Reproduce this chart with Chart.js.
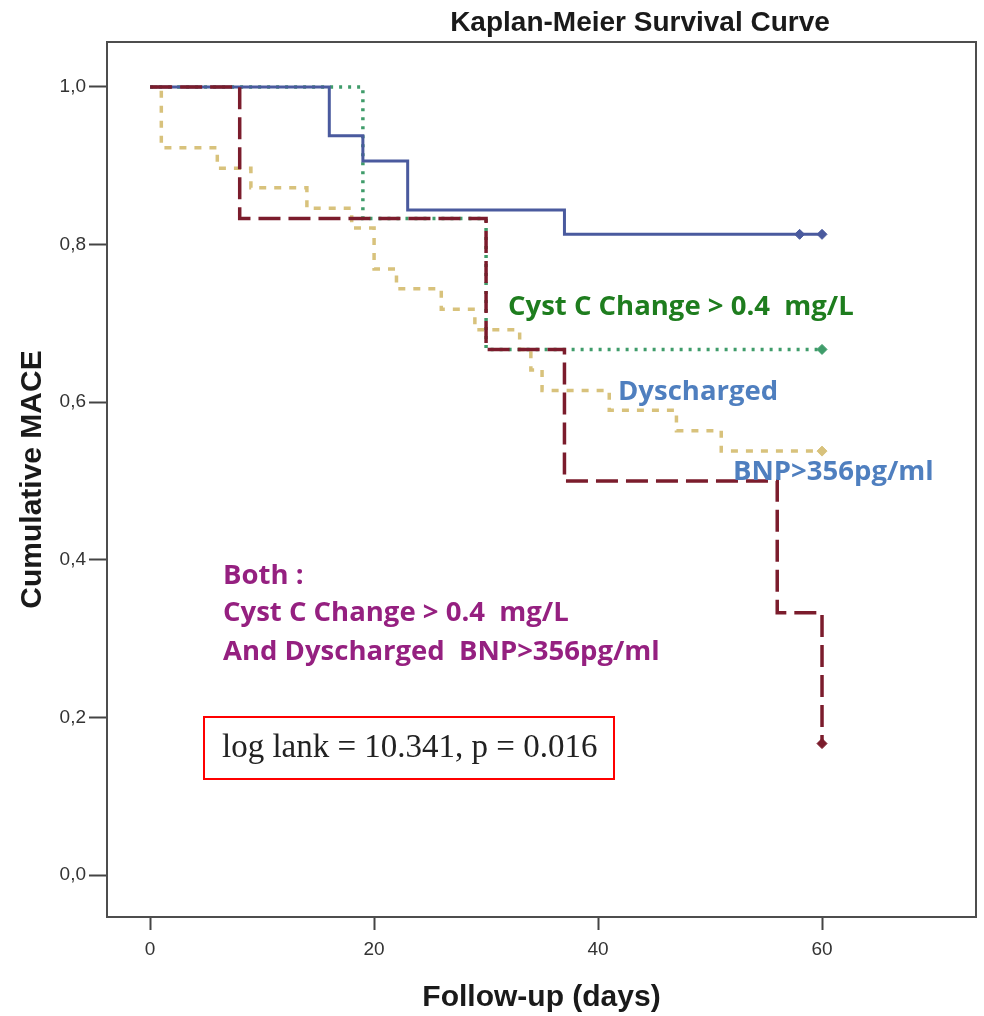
<!DOCTYPE html>
<html>
<head>
<meta charset="utf-8">
<script src="https://cdn.jsdelivr.net/npm/chart.js@4.4.1/dist/chart.umd.min.js"></script>
<style>
  html, body { margin: 0; padding: 0; background: #ffffff; }
  #wrap { width: 984px; height: 1016px; }
</style>
</head>
<body>
<div id="wrap"><canvas id="km" width="984" height="1016"></canvas></div>
<script>
// Follow-up times (days) and cumulative survival for each group
const bothDays   = [0, 8, 30, 37, 56, 60];
const bothSurv   = [1.0, 0.833, 0.667, 0.5, 0.333, 0.167];
const bothCens   = [60];

const dischDays  = [0, 16, 19, 23, 37, 58, 60];
const dischSurv  = [1.0, 0.938, 0.906, 0.844, 0.813, 0.813, 0.813];
const dischCens  = [58, 60];

const cystDays   = [0, 19, 30, 60];
const cystSurv   = [1.0, 0.833, 0.667, 0.667];
const cystCens   = [60];

const noneDays   = [0, 1, 6, 9, 14, 18, 20, 22, 26, 29, 33, 34, 35, 41, 47, 51, 60];
const noneSurv   = [1.0, 0.923, 0.897, 0.872, 0.846, 0.821, 0.769, 0.744, 0.718, 0.692, 0.667, 0.641, 0.615, 0.590, 0.564, 0.538, 0.538];
const noneCens   = [60];

const xTicks = [0, 20, 40, 60];
const yTicks = [0.0, 0.2, 0.4, 0.6, 0.8, 1.0];

const chartTitle = 'Kaplan-Meier Survival Curve';
const xTitle = 'Follow-up (days)';
const yTitle = 'Cumulative MACE';
const statText = 'log lank = 10.341, p = 0.016';

function toPoints(days, surv) {
  return days.map((d, i) => ({ x: d, y: surv[i] }));
}

function kmSeries(label, days, surv, cens, color, dash, width) {
  return {
    label: label,
    data: toPoints(days, surv),
    borderColor: color,
    backgroundColor: color,
    borderWidth: width,
    borderDash: dash,
    stepped: 'before',
    fill: false,
    pointStyle: 'rectRot',
    pointRadius: ctx => (cens.includes(days[ctx.dataIndex]) ? 5 : 0),
    pointHoverRadius: 0,
    pointBorderWidth: 1,
    tension: 0
  };
}

// Free-text notes and the statistic box inside the plot
const notesPlugin = {
  id: 'notes',
  afterDraw(chart) {
    const c = chart.ctx;
    c.save();
    // chart title
    c.fillStyle = '#1a1a1a';
    c.font = 'bold 28px "Liberation Sans", Arial, sans-serif';
    c.textAlign = 'center';
    c.textBaseline = 'middle';
    c.fillText(chartTitle, 640, 23);

    c.textAlign = 'left';
    c.font = 'bold 27.5px "Open Sans", "Noto Sans", sans-serif';
    c.fillStyle = '#1e7d1e';
    c.fillText('Cyst C Change > 0.4  mg/L', 508, 307);
    c.fillStyle = '#4f7fbf';
    c.fillText('Dyscharged', 618, 392);
    c.fillText('BNP>356pg/ml', 733, 472);

    c.fillStyle = '#952080';
    c.fillText('Both :', 223, 576);
    c.fillText('Cyst C Change > 0.4  mg/L', 223, 613);
    c.fillText('And Dyscharged  BNP>356pg/ml', 223, 652);

    // statistic box
    c.strokeStyle = '#ff0000';
    c.lineWidth = 2;
    c.strokeRect(204, 717, 410, 62);
    c.fillStyle = '#222222';
    c.font = '33px "Liberation Serif", "Times New Roman", serif';
    c.fillText(statText, 222, 748);

    // top and right edges of the frame
    const a = chart.chartArea;
    c.strokeStyle = '#4d4d4d';
    c.lineWidth = 2;
    c.beginPath();
    c.moveTo(a.left, a.top);
    c.lineTo(a.right, a.top);
    c.lineTo(a.right, a.bottom);
    c.stroke();
    c.restore();
  }
};

const axisFont = { family: '"Liberation Sans", Arial, sans-serif', size: 19 };
const titleFont = { family: '"Liberation Sans", Arial, sans-serif', size: 30, weight: 'bold', lineHeight: 1.2 };

new Chart(document.getElementById('km'), {
  type: 'line',
  data: {
    datasets: [
      kmSeries('Both', bothDays, bothSurv, bothCens, '#7b1c2c', [22, 8], 3.5),
      kmSeries('Dyscharged BNP>356pg/ml', dischDays, dischSurv, dischCens, '#4a5a9e', [], 3),
      kmSeries('Cyst C Change > 0.4 mg/L', cystDays, cystSurv, cystCens, '#3f9c6a', [3, 6], 3.5),
      kmSeries('None', noneDays, noneSurv, noneCens, '#d8c27c', [7, 8], 3.5)
    ]
  },
  options: {
    responsive: false,
    devicePixelRatio: 1,
    animation: false,
    layout: { padding: { left: 0, top: 42, right: 8, bottom: 0 } },
    plugins: {
      legend: { display: false },
      tooltip: { enabled: false },
      title: { display: false }
    },
    scales: {
      x: {
        type: 'linear',
        min: -3.85,
        max: 73.75,
        afterFit: s => { s.height = 99; },
        afterBuildTicks: s => { s.ticks = xTicks.map(v => ({ value: v })); },
        ticks: { font: axisFont, color: '#333333', padding: 8, maxRotation: 0 },
        grid: { drawOnChartArea: false, drawTicks: true, tickLength: 13, tickWidth: 2, tickColor: '#444444' },
        border: { display: true, color: '#4d4d4d', width: 2 },
        title: { display: true, text: xTitle, font: titleFont, color: '#1a1a1a', padding: { top: 0, bottom: 0 } }
      },
      y: {
        type: 'linear',
        min: -0.053,
        max: 1.057,
        afterFit: s => { s.width = 107; },
        afterBuildTicks: s => { s.ticks = yTicks.map(v => ({ value: v })); },
        ticks: {
          font: axisFont, color: '#333333', padding: 3,
          callback: v => v.toFixed(1).replace('.', ',')
        },
        grid: { drawOnChartArea: false, drawTicks: true, tickLength: 18, tickWidth: 2, tickColor: '#444444' },
        border: { display: true, color: '#4d4d4d', width: 2 },
        title: { display: true, text: yTitle, font: titleFont, color: '#1a1a1a', padding: { top: 15, bottom: 0 } }
      }
    }
  },
  plugins: [notesPlugin]
});
</script>
</body>
</html>
